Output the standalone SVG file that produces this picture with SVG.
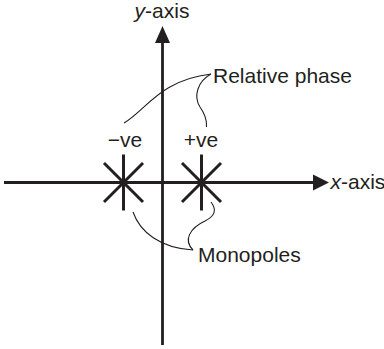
<svg xmlns="http://www.w3.org/2000/svg" width="384" height="349" viewBox="0 0 384 349">
<style>
.ax{stroke:#231f20;stroke-width:2.8;fill:none}
.st{stroke:#231f20;stroke-width:3;fill:none}
.ln{stroke:#231f20;stroke-width:1.1;fill:none}
text{font-family:"Liberation Sans",Arial,sans-serif;font-size:21px;fill:#231f20}
</style>
<defs>
<g id="star"><path class="st" d="M0,-28V28M-19.5,-19.5L19.5,19.5M19.5,-19.5L-19.5,19.5M-28,0H28"/></g>
</defs>
<g id="axes">
<path class="ax" d="M162.5,345V40"/>
<path d="M162.5,26L155,43H170Z" fill="#231f20"/>
<path class="ax" d="M4,182.5H316"/>
<path d="M329,182.5L313,174.5V190.5Z" fill="#231f20"/>
</g>
<g id="y-label"><text x="162" y="18" text-anchor="middle"><tspan font-style="italic">y</tspan>-axis</text></g>
<g id="x-label"><text x="330.5" y="189" font-size="18.5"><tspan font-style="italic">x</tspan>-axis</text></g>
<g id="neg-monopole"><use href="#star" x="123.5" y="182.5"/><text x="125" y="147" text-anchor="middle">−ve</text></g>
<g id="pos-monopole"><use href="#star" x="201.5" y="182.5"/><text x="201" y="147" text-anchor="middle">+ve</text></g>
<g id="relative-phase"><text x="213" y="83">Relative phase</text></g>
<g id="monopoles"><text x="198" y="262">Monopoles</text></g>
<g id="connectors">
<path class="ln" d="M124,123C146,110 160,80 211,74"/>
<path class="ln" d="M211,74C198,81 193,96 200,107C205,114 207,120 206.5,127"/>
<path class="ln" d="M133,212C140,232 160,248 193,250"/>
<path class="ln" d="M211,202C217,210 215,216 205,221C190,228 183,240 193,250"/>
</g>
</svg>
